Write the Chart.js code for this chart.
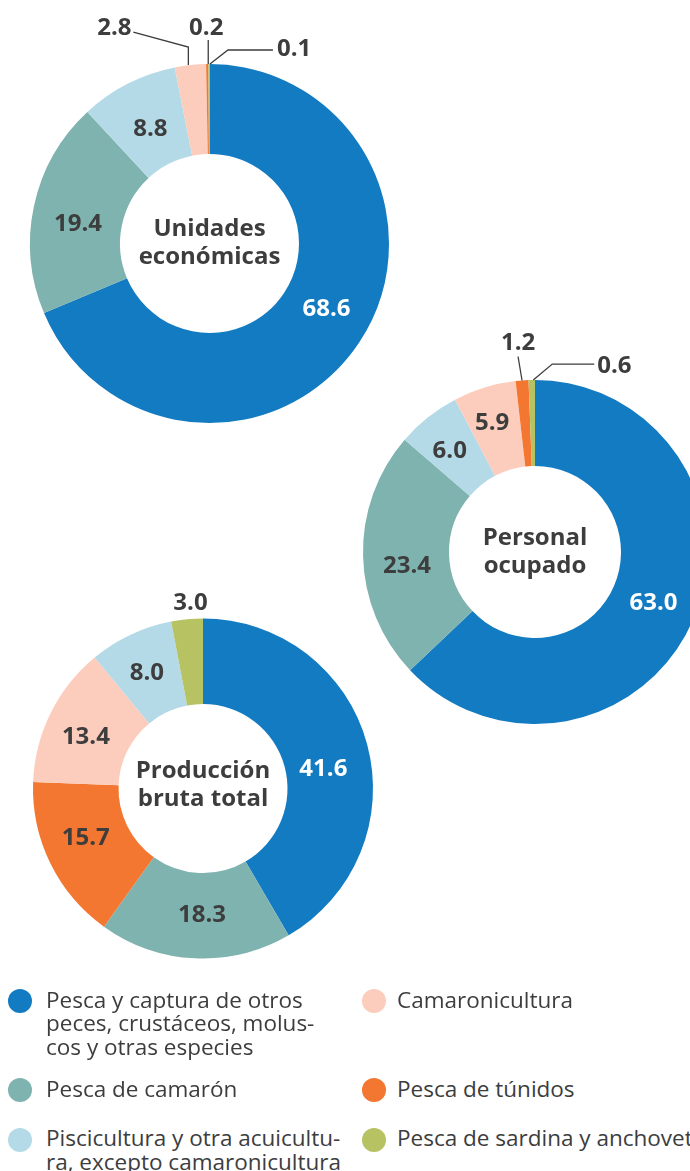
<!DOCTYPE html>
<html lang="es">
<head>
<meta charset="utf-8">
<script src="https://cdn.jsdelivr.net/npm/chart.js@4.4.1/dist/chart.umd.min.js"></script>
<style>
  html, body { margin: 0; padding: 0; background: #fff; }
  #page {
    position: relative;
    width: 690px;
    height: 1171px;
    overflow: hidden;
    font-family: 'Open Sans', sans-serif;
    color: #3d3d3e;
  }
  #page canvas { position: absolute; }
  .legend-item {
    position: absolute;
    font-size: 22.5px;
    line-height: 23.8px;
    white-space: nowrap;
  }
  .legend-item .dot {
    position: absolute;
    top: 1.5px;
    width: 24px;
    height: 24px;
    border-radius: 50%;
  }
</style>
</head>
<body>
<div id="page">
  <canvas id="unidades" width="419" height="487" style="left:0;top:0"></canvas>
  <canvas id="personal" width="400" height="440" style="left:335px;top:332px"></canvas>
  <canvas id="produccion" width="406" height="417" style="left:0;top:580px"></canvas>
  <div id="legend"></div>
</div>
<script>
// Categories (same colour in every doughnut)
const categories = [
  'Pesca y captura de otros peces, crustáceos, moluscos y otras especies',
  'Pesca de camarón',
  'Piscicultura y otra acuicultura, excepto camaronicultura',
  'Camaronicultura',
  'Pesca de túnidos',
  'Pesca de sardina y anchoveta',
];
const colors = ['#137bc1', '#7fb3af', '#b3dae6', '#fccdbc', '#f37631', '#b7c263'];

// Shares in percent, in category order
const unidadesEconomicas = [68.6, 19.4, 8.8, 2.8, 0.2, 0.1];
const personalOcupado = [63.0, 23.4, 6.0, 5.9, 1.2, 0.6];
const produccionBruta = [41.6, 18.3, 8.0, 13.4, 15.7, 3.0];

// Legend text as it is broken in the figure
const legendLines = [
  ['Pesca y captura de otros', 'peces, crustáceos, molus-', 'cos y otras especies'],
  ['Pesca de camarón'],
  ['Piscicultura y otra acuicultu-', 'ra, excepto camaronicultura'],
  ['Camaronicultura'],
  ['Pesca de túnidos'],
  ['Pesca de sardina y anchoveta'],
];

const TEXT = '#3d3d3e';
const LABEL_FONT = 'bold 24px "Open Sans"';

/**
 * Draws the value of each slice (inside the ring, or outside with a leader line)
 * and the title in the hole of the doughnut.
 */
const sliceLabels = {
  id: 'sliceLabels',
  afterDatasetsDraw(chart, args, opts) {
    const ctx = chart.ctx;
    const dataset = chart.data.datasets[0];
    const meta = chart.getDatasetMeta(0);

    ctx.save();
    ctx.font = LABEL_FONT;
    ctx.textBaseline = 'middle';

    meta.data.forEach((arc, i) => {
      const cat = dataset.cats[i];
      const value = dataset.data[i].toFixed(1);
      const callout = opts.callouts[cat];

      if (callout) {
        const { x, y, startAngle, endAngle, outerRadius } = arc.getProps(
          ['x', 'y', 'startAngle', 'endAngle', 'outerRadius'], true);
        const mid = (startAngle + endAngle) / 2;
        const ox = x + outerRadius * Math.cos(mid);
        const oy = y + outerRadius * Math.sin(mid);

        if (callout.path) {
          ctx.beginPath();
          callout.path.forEach(([dx, dy], k) => {
            k === 0 ? ctx.moveTo(ox + dx, oy + dy) : ctx.lineTo(ox + dx, oy + dy);
          });
          ctx.strokeStyle = TEXT;
          ctx.lineWidth = 1.3;
          ctx.stroke();
        }
        ctx.fillStyle = TEXT;
        ctx.textAlign = callout.align || 'center';
        ctx.fillText(value, ox + callout.text[0], oy + callout.text[1]);
      } else {
        // centroid of the slice, with a small hand nudge like in the original layout
        const pos = arc.tooltipPosition(true);
        const nudge = (opts.nudges && opts.nudges[cat]) || [0, 0];
        ctx.fillStyle = cat === 0 ? '#ffffff' : TEXT;
        ctx.textAlign = 'center';
        ctx.fillText(value, pos.x + nudge[0], pos.y + nudge[1]);
      }
    });

    // title inside the hole
    const { x, y } = meta.data[0].getProps(['x', 'y'], true);
    const ty = y + (opts.titleShift || 0);
    ctx.fillStyle = TEXT;
    ctx.textAlign = 'center';
    ctx.font = 'bold 24px "Open Sans"';
    ctx.fillText(opts.title[0], x, ty - 14);
    ctx.fillText(opts.title[1], x, ty + 14);
    ctx.restore();
  },
};

/**
 * Builds one doughnut, slices sorted from largest to smallest clockwise from the top.
 * Chart.js takes the hole as a fraction of the ring, so the inner radius becomes a percentage.
 */
const drawDoughnut = (id, values, radius, inner, labelOpts) => {
  const cats = values.map((v, i) => i).sort((a, b) => values[b] - values[a]);

  return new Chart(document.getElementById(id), {
    type: 'doughnut',
    data: {
      labels: cats.map(c => categories[c]),
      datasets: [
        {
          data: cats.map(c => values[c]),
          backgroundColor: cats.map(c => colors[c]),
          borderWidth: 0,
          cats,
        },
      ],
    },
    options: {
      responsive: false,
      animation: false,
      devicePixelRatio: 1,
      events: [],
      radius,
      cutout: `${(inner / radius) * 100}%`,
      layout: { padding: 0 },
      plugins: {
        legend: { display: false },
        tooltip: { enabled: false },
        sliceLabels: labelOpts,
      },
    },
    plugins: [sliceLabels],
  });
};

drawDoughnut('unidades', unidadesEconomicas, 179.5, 89.5, {
  title: ['Unidades', 'económicas'],
  callouts: {
    3: { path: [[-2, 0], [-2, -18], [-57, -33]], text: [-76, -37] },
    4: { path: [[1, 0], [1, -24]], text: [-1, -36] },
    5: { path: [[1, 0], [19, -14], [64, -14]], text: [68, -15], align: 'left' },
  },
  nudges: { 0: [5, -9], 1: [0, 9], 2: [2, 5] },
});

drawDoughnut('personal', personalOcupado, 172, 86, {
  title: ['Personal', 'ocupado'],
  callouts: {
    4: { path: [[0, 0], [-4, -24]], text: [-4, -37] },
    5: { path: [[1.5, 0], [20.5, -16], [62.5, -16]], text: [65.5, -14], align: 'left' },
  },
  nudges: { 1: [1, 11], 2: [-5, 0], 3: [-5, -6] },
});

drawDoughnut('produccion', produccionBruta, 170, 84.5, {
  title: ['Producción', 'bruta total'],
  titleShift: -3,
  callouts: {
    5: { text: [3.5, -16] },
  },
  nudges: { 0: [-2.5, 14], 1: [5, 0], 2: [-2, 0], 3: [-3, 5], 4: [-3, -6] },
});

// HTML legend, two columns
const legendEl = document.getElementById('legend');
const legendSlots = [
  { left: 46, top: 987.5, dot: -38 },
  { left: 46, top: 1076.5, dot: -38 },
  { left: 46, top: 1126, dot: -38 },
  { left: 397, top: 987.5, dot: -35 },
  { left: 397, top: 1076.5, dot: -35 },
  { left: 397, top: 1126, dot: -35 },
];
legendLines.forEach((lines, i) => {
  const slot = legendSlots[i];
  legendEl.insertAdjacentHTML(
    'beforeend',
    `
      <div class="legend-item" style="left:${slot.left}px;top:${slot.top}px">
        <span class="dot" style="left:${slot.dot}px;background:${colors[i]}"></span>
        ${lines.join('<br>')}
      </div>
    `,
  );
});
</script>
</body>
</html>
